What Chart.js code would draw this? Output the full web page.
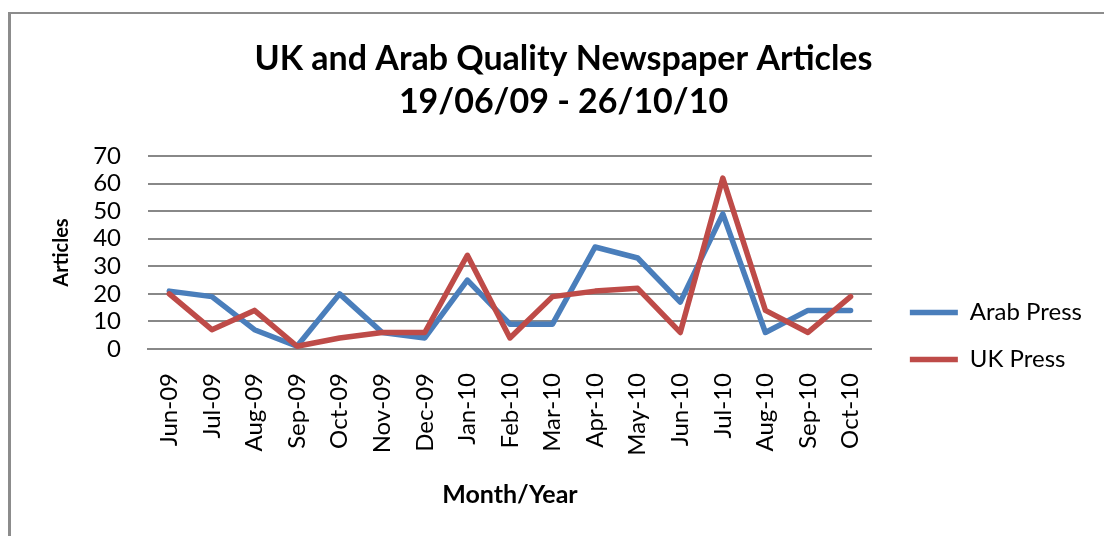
<!DOCTYPE html>
<html>
<head>
<meta charset="utf-8">
<script src="https://cdn.jsdelivr.net/npm/chart.js@4/dist/chart.umd.min.js"></script>
<style>
  html, body { margin: 0; padding: 0; background: #fff; }
  #wrap { position: relative; width: 1104px; height: 536px; overflow: hidden; }
  #frame { position: absolute; left: 8px; top: 12px; right: -10px; bottom: -10px;
           border-left: 3px solid #8c8c8c; border-top: 2px solid #8c8c8c; pointer-events: none; }
  canvas { position: absolute; left: 0; top: 0; }
</style>
</head>
<body>
<div id="wrap">
  <canvas id="c" width="1104" height="536"></canvas>
  <div id="frame"></div>
</div>
<script>
const categories = ["Jun-09","Jul-09","Aug-09","Sep-09","Oct-09","Nov-09","Dec-09","Jan-10","Feb-10","Mar-10","Apr-10","May-10","Jun-10","Jul-10","Aug-10","Sep-10","Oct-10"];
const arabPress = [21, 19, 7, 1, 20, 6, 4, 25, 9, 9, 37, 33, 17, 49, 6, 14, 14];
const ukPress   = [20, 7, 14, 1, 4, 6, 6, 34, 4, 19, 21, 22, 6, 62, 14, 6, 19];
const yTicks = [0, 10, 20, 30, 40, 50, 60, 70];
const titleLines = ["UK and Arab Quality Newspaper Articles", "19/06/09 - 26/10/10"];
const seriesNames = ["Arab Press", "UK Press"];

Chart.defaults.font.family = "Lato, 'Noto Sans', sans-serif";
Chart.defaults.color = "#000";

const legendShift = {
  id: 'legendShift',
  afterLayout(chart) {
    const lg = chart.legend;
    if (!lg) return;
    const dx = 15, dy = 81;
    lg.left += dx; lg.right += dx;
    lg.top += dy; lg.bottom += dy;
  }
};

new Chart(document.getElementById('c'), {
  type: 'line',
  data: {
    labels: categories,
    datasets: [
      { label: seriesNames[0], data: arabPress, borderColor: '#4a7ebb', backgroundColor: '#4a7ebb',
        borderWidth: 5.5, pointRadius: 0, tension: 0, borderJoinStyle: 'round', borderCapStyle: 'round', order: 1 },
      { label: seriesNames[1], data: ukPress, borderColor: '#be4b48', backgroundColor: '#be4b48',
        borderWidth: 5.5, pointRadius: 0, tension: 0, borderJoinStyle: 'round', borderCapStyle: 'round', order: 0 }
    ]
  },
  options: {
    responsive: false,
    animation: false,
    devicePixelRatio: 1,
    layout: { padding: { left: 50, right: 27, top: 0, bottom: 26 } },
    plugins: {
      title: {
        display: true,
        text: titleLines,
        color: '#000',
        font: { size: 34, weight: 'bold', lineHeight: 1.265 },
        padding: { top: 38, bottom: 32 }
      },
      legend: {
        position: 'right',
        align: 'center',
        labels: {
          usePointStyle: true,
          pointStyle: 'line',
          pointStyleWidth: 48,
          boxHeight: 4,
          padding: 23,
          color: '#000',
          font: { size: 24 },
          sort: (a, b) => a.datasetIndex - b.datasetIndex
        }
      },
      tooltip: { enabled: false }
    },
    scales: {
      x: {
        offset: true,
        grid: { display: false, drawTicks: false },
        border: { display: true, color: '#888888', width: 2 },
        ticks: { autoSkip: false, minRotation: 90, maxRotation: 90, padding: 24, font: { size: 24 }, color: '#000' },
        title: { display: true, text: 'Month/Year', font: { size: 25, weight: 'bold' }, padding: { top: 0, bottom: 0 }, color: '#000' },
        afterFit(scale) { scale.height = 161; }
      },
      y: {
        min: yTicks[0],
        max: yTicks[yTicks.length - 1],
        afterBuildTicks(scale) { scale.ticks = yTicks.map(v => ({ value: v })); },
        grid: { color: '#888888', lineWidth: 2, drawTicks: false },
        border: { display: false },
        ticks: { autoSkip: false, padding: 27, font: { size: 24 }, color: '#000' },
        title: { display: true, text: 'Articles', font: { size: 20, weight: 'bold' }, padding: { top: 0, bottom: 0 }, color: '#000' },
        afterFit(scale) { scale.width = 98; }
      }
    }
  },
  plugins: [legendShift]
});
</script>
</body>
</html>
